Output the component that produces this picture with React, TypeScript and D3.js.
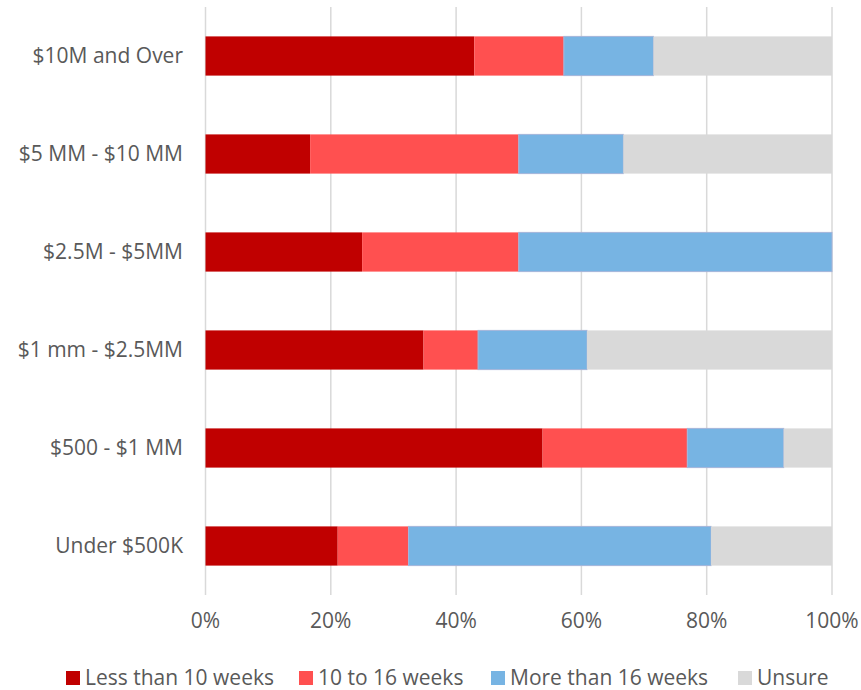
import * as d3 from 'd3';
import React from 'react';

// categories, top to bottom
const categories = [
  '$10M and Over',
  '$5 MM - $10 MM',
  '$2.5M - $5MM',
  '$1 mm - $2.5MM',
  '$500 - $1 MM',
  'Under $500K',
];

const seriesNames = ['Less than 10 weeks', '10 to 16 weeks', 'More than 16 weeks', 'Unsure'];
const seriesColors = ['#C00000', '#FF5050', '#77B4E3', '#D9D9D9'];

// shares in percent, one array per series, same order as categories
const lessThan10 = [42.9, 16.7, 25.0, 34.8, 53.8, 21.1];
const tenTo16 = [14.3, 33.3, 25.0, 8.7, 23.1, 11.3];
const moreThan16 = [14.3, 16.7, 50.0, 17.4, 15.4, 48.3];
const unsure = [28.5, 33.3, 0, 39.1, 7.7, 19.3];

const tickValues = [0, 20, 40, 60, 80, 100];

const W = 861;
const H = 690;
const margin = { top: 7, right: 29, bottom: 95, left: 205.5 };
const font = '"Open Sans", Lato, sans-serif';
const fontSize = 21;
const textColor = '#595959';

export default function App() {
  const rows = categories.map((c, i) => ({
    cat: c,
    s0: lessThan10[i],
    s1: tenTo16[i],
    s2: moreThan16[i],
    s3: unsure[i],
  }));
  const keys = ['s0', 's1', 's2', 's3'];
  const stacked = d3.stack<any>().keys(keys)(rows);

  const x = d3.scaleLinear().domain([0, 100]).range([margin.left, W - margin.right]);
  const y = d3
    .scaleBand()
    .domain(categories)
    .range([margin.top, H - margin.bottom])
    .paddingInner(0.6)
    .paddingOuter(0.3);

  const legendX = [66, 299, 491, 738];

  return (
    <svg width={W} height={H} style={{ position: 'absolute', left: 0, top: 0, background: '#fff' }}>
      {tickValues.map((t) => (
        <line
          key={'g' + t}
          x1={x(t)}
          x2={x(t)}
          y1={margin.top}
          y2={H - margin.bottom}
          stroke="#D9D9D9"
          strokeWidth={1.5}
        />
      ))}
      {stacked.map((layer, si) =>
        layer.map((d, i) => {
          const w = x(d[1]) - x(d[0]);
          if (w <= 0) return null;
          return (
            <rect
              key={si + '-' + i}
              x={x(d[0])}
              y={y(categories[i])}
              width={w}
              height={y.bandwidth()}
              fill={seriesColors[si]}
              stroke={si === 2 ? '#A5B5DA' : 'none'}
              strokeWidth={si === 2 ? 1 : 0}
            />
          );
        })
      )}
      {categories.map((c) => (
        <text
          key={c}
          x={183}
          y={(y(c) ?? 0) + y.bandwidth() / 2}
          dy="0.35em"
          textAnchor="end"
          fontFamily={font}
          fontSize={fontSize}
          fill={textColor}
        >
          {c}
        </text>
      ))}
      {tickValues.map((t) => (
        <text
          key={'t' + t}
          x={x(t)}
          y={628}
          textAnchor="middle"
          fontFamily={font}
          fontSize={fontSize}
          fill={textColor}
        >
          {t + '%'}
        </text>
      ))}
      {seriesNames.map((n, i) => (
        <g key={n} transform={`translate(${legendX[i]},671)`}>
          <rect x={0} y={0} width={14} height={14} fill={seriesColors[i]} />
          <text x={19} y={7} dy="0.35em" fontFamily={font} fontSize={fontSize} fill={textColor}>
            {n}
          </text>
        </g>
      ))}
    </svg>
  );
}
